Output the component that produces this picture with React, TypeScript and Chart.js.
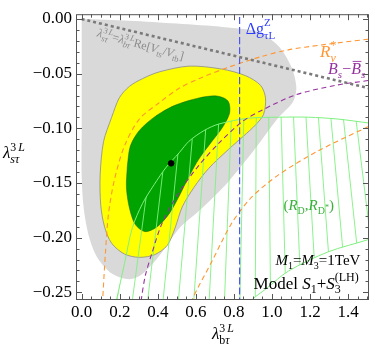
import React, { useEffect, useRef } from "react";
import { Chart, registerables } from "chart.js";

Chart.register(...registerables);

const FONT = "'Liberation Serif', 'DejaVu Serif', 'Times New Roman', serif";

// ---- axes ----
const xRange = [-0.03, 1.51];
const yRange = [-0.257, 0.0044];
const xMajorStep = 0.2;
const xMinorStep = 0.05;
const yMajorStep = 0.05;
const yMinorStep = 0.01;

// ---- regions (lambda_btau, lambda_stau) ----
const grayRegion: [number, number][] = [
  [0, 0], [0.25, -0.0015], [0.5, -0.0042], [0.75, -0.0075], [0.92, -0.0115], [1.03, -0.024],
  [1.1, -0.043], [1.128, -0.062], [1.11, -0.076], [1.03, -0.091], [0.91, -0.119], [0.77, -0.149],
  [0.62, -0.175], [0.51, -0.192], [0.41, -0.216], [0.32, -0.233], [0.25, -0.238], [0.16, -0.233],
  [0.085, -0.219], [0.04, -0.2], [0.012, -0.175], [0, -0.145], [0, -0.1], [0, -0.05], [0, 0],
];
const yellowRegion: [number, number][] = [
  [0.157, -0.09], [0.198, -0.072], [0.251, -0.0616], [0.319, -0.0546], [0.407, -0.0484],
  [0.564, -0.0431], [0.736, -0.0458], [0.862, -0.0519], [0.94, -0.0607], [0.966, -0.0722],
  [0.956, -0.0871], [0.914, -0.0968], [0.851, -0.107], [0.773, -0.119], [0.668, -0.1365],
  [0.59, -0.154], [0.528, -0.172], [0.491, -0.191], [0.45, -0.207], [0.384, -0.2155],
  [0.303, -0.218], [0.225, -0.215], [0.157, -0.205], [0.12, -0.19], [0.1, -0.17],
  [0.097, -0.1426], [0.115, -0.112], [0.157, -0.09],
];
const greenRegion: [number, number][] = [
  [0.24, -0.134], [0.256, -0.116], [0.303, -0.102], [0.381, -0.0898], [0.486, -0.0792],
  [0.616, -0.0722], [0.71, -0.0704], [0.768, -0.0748], [0.778, -0.0854], [0.742, -0.0986],
  [0.684, -0.112], [0.616, -0.128], [0.564, -0.144], [0.512, -0.162], [0.46, -0.178],
  [0.397, -0.19], [0.334, -0.1945], [0.282, -0.188], [0.251, -0.173], [0.235, -0.154], [0.24, -0.134],
];
const rdOuterArc: [number, number][] = [
  [0.172, -0.266], [0.183, -0.257], [0.225, -0.2236], [0.266, -0.191], [0.319, -0.169],
  [0.381, -0.1514], [0.444, -0.1356], [0.512, -0.1224], [0.564, -0.1118], [0.642, -0.1021],
  [0.721, -0.096], [0.877, -0.0907], [1.034, -0.0898], [1.191, -0.0898], [1.347, -0.0915],
  [1.509, -0.0951], [1.556, -0.096],
];
const rdInnerArc: [number, number][] = [
  [1.556, -0.198], [1.509, -0.2016], [1.295, -0.213], [1.086, -0.2306], [0.971, -0.2465],
  [0.893, -0.257], [0.841, -0.2676],
];
const rnuOuter: [number, number][] = [
  [1.55, -0.018], [1.504, -0.0185], [1.258, -0.0238], [1.086, -0.0282], [0.945, -0.0343],
  [0.773, -0.044], [0.616, -0.0546], [0.512, -0.0634], [0.407, -0.0766], [0.303, -0.0915],
  [0.225, -0.116], [0.172, -0.147], [0.141, -0.178], [0.125, -0.213], [0.11, -0.257], [0.105, -0.27],
];
const rnuInner: [number, number][] = [
  [1.55, -0.095], [1.504, -0.0986], [1.243, -0.1206], [1.034, -0.1426], [0.893, -0.163],
  [0.789, -0.1866], [0.684, -0.2218], [0.58, -0.257], [0.565, -0.27],
];
const bsMixing: [number, number][] = [
  [1.55, -0.055], [1.504, -0.0563], [1.332, -0.0607], [1.123, -0.0695], [0.945, -0.0836],
  [0.841, -0.0942], [0.721, -0.1136], [0.616, -0.1338], [0.512, -0.1585], [0.423, -0.1866],
  [0.371, -0.213], [0.334, -0.235], [0.313, -0.257], [0.305, -0.27],
];
const dgZLine: [number, number][] = [[0.83, -0.27], [0.83, 0.01]];
const ckmLine: [number, number][] = [[0, 0], [1.55, -0.065]];
const bestFit: [number, number][] = [[0.47, -0.132]];

// hatch pattern style for (R_D, R_D*) band
const hatchApex = [0.94, 0.62];
const hatchStart = 0.183;
const hatchStep = 0.081;

const toXY = (a: [number, number][]) => a.map(([x, y]) => ({ x, y }));

type Txt = { t: string; sz: number; it?: boolean; dy?: number; over?: boolean; gap?: number };
type Grp = { sup?: Txt[]; sub?: Txt[] };
type Part = Txt | Grp;
const T = (t: string, sz: number, it = false, dy = 0, extra: Partial<Txt> = {}): Txt => ({ t, sz, it, dy, ...extra });

function drawTxt(ctx: CanvasRenderingContext2D, s: Txt, x: number, y: number) {
  ctx.font = `${s.it ? "italic " : ""}${s.sz}px ${FONT}`;
  const xx = x + (s.gap || 0);
  ctx.fillText(s.t, xx, y + (s.dy || 0));
  const w = ctx.measureText(s.t).width;
  if (s.over) {
    ctx.lineWidth = 0.9;
    ctx.beginPath();
    ctx.moveTo(xx + w * 0.15, y + (s.dy || 0) - s.sz * 0.78);
    ctx.lineTo(xx + w * 1.05, y + (s.dy || 0) - s.sz * 0.78);
    ctx.stroke();
  }
  return xx + w;
}
function drawParts(ctx: CanvasRenderingContext2D, parts: Part[], x: number, y: number, color: string) {
  ctx.fillStyle = color;
  ctx.strokeStyle = color;
  ctx.textAlign = "left";
  ctx.textBaseline = "alphabetic";
  let cx = x;
  for (const p of parts) {
    if ((p as Txt).t !== undefined) cx = drawTxt(ctx, p as Txt, cx, y);
    else {
      const g = p as Grp;
      let e1 = cx, e2 = cx;
      if (g.sup) for (const s of g.sup) e1 = drawTxt(ctx, s, e1, y);
      if (g.sub) for (const s of g.sub) e2 = drawTxt(ctx, s, e2, y);
      cx = Math.max(e1, e2);
    }
  }
  return cx;
}

const lam = (sz: number, sub: Txt[]): Part[] => [
  T("λ", sz, true),
  { sup: [T("3", sz * 0.7, false, -sz * 0.42), T("L", sz * 0.7, true, -sz * 0.42, { gap: sz * 0.12 })], sub },
];

const frameColor = "#555";

const hatchPlugin = {
  id: "hatchRD",
  afterDatasetDraw(chart: any, args: any) {
    const ds = chart.data.datasets[args.index];
    if (ds.hatchKey !== "rd") return;
    const { ctx, chartArea: a, scales } = chart;
    const xs = scales.x, ys = scales.y;
    const line = args.meta.dataset;
    ctx.save();
    ctx.beginPath();
    ctx.rect(a.left, a.top, a.right - a.left, a.bottom - a.top);
    ctx.clip();
    ctx.beginPath();
    if (line && typeof line.path === "function") {
      line.path(ctx);
    } else {
      args.meta.data.forEach((pt: any, i: number) => (i ? ctx.lineTo(pt.x, pt.y) : ctx.moveTo(pt.x, pt.y)));
    }
    ctx.closePath();
    ctx.clip();
    ctx.strokeStyle = ds.borderColor;
    ctx.lineWidth = 0.9;
    const cx = xs.getPixelForValue(hatchApex[0]);
    const cy = ys.getPixelForValue(hatchApex[1]);
    ctx.beginPath();
    for (let k = -6; k <= 40; k++) {
      const bx = xs.getPixelForValue(hatchStart + k * hatchStep);
      const by = ys.getPixelForValue(-0.26);
      ctx.moveTo(cx, cy);
      ctx.lineTo(cx + (bx - cx) * 1.3, cy + (by - cy) * 1.3);
    }
    ctx.stroke();
    ctx.restore();
  },
};

const framePlugin = {
  id: "frameTicks",
  afterDatasetsDraw(chart: any) {
    const { ctx, chartArea: a, scales } = chart;
    const xs = scales.x, ys = scales.y;
    ctx.save();
    ctx.strokeStyle = frameColor;
    ctx.lineWidth = 1;
    ctx.strokeRect(a.left + 0.5, a.top + 0.5, a.right - a.left - 1, a.bottom - a.top - 1);
    ctx.beginPath();
    const isMajor = (v: number, step: number) => Math.abs(v / step - Math.round(v / step)) < 1e-6;
    for (let v = Math.ceil(xs.min / xMinorStep) * xMinorStep; v <= xs.max + 1e-9; v += xMinorStep) {
      const L = isMajor(v, xMajorStep) ? 6 : 3.5;
      const px = Math.round(xs.getPixelForValue(v)) + 0.5;
      ctx.moveTo(px, a.bottom); ctx.lineTo(px, a.bottom - L);
      ctx.moveTo(px, a.top); ctx.lineTo(px, a.top + L);
    }
    for (let v = Math.ceil(ys.min / yMinorStep) * yMinorStep; v <= ys.max + 1e-9; v += yMinorStep) {
      const L = isMajor(v, yMajorStep) ? 6 : 3.5;
      const py = Math.round(ys.getPixelForValue(v)) + 0.5;
      ctx.moveTo(a.left, py); ctx.lineTo(a.left + L, py);
      ctx.moveTo(a.right, py); ctx.lineTo(a.right - L, py);
    }
    ctx.stroke();
    ctx.restore();
  },
};

const labelPlugin = {
  id: "labels",
  afterDraw(chart: any) {
    const { ctx, scales } = chart;
    const xs = scales.x, ys = scales.y;
    const P = (x: number, y: number) => [xs.getPixelForValue(x), ys.getPixelForValue(y)];
    ctx.save();
    // axis titles
    drawParts(ctx, lam(17, [T("sτ", 12, true, 5)]), 3, 158, "#000");
    drawParts(ctx, lam(17, [T("b", 12, false, 5), T("τ", 12, true, 5)]), 212, 339, "#000");
    // blue
    let [px, py] = P(0.862, -0.0141);
    drawParts(ctx, [T("Δg", 16), { sup: [T("Z", 11, false, -8)], sub: [T("τL", 11, false, 5)] }], px, py, "rgb(45,60,255)");
    [px, py] = P(1.253, -0.0352);
    drawParts(ctx, [T("R", 17, true), { sup: [T("*", 12, false, -8)], sub: [T("ν", 12, true, 5)] }], px, py, "rgb(255,150,50)");
    [px, py] = P(1.295, -0.0502);
    drawParts(ctx, [T("B", 16, true), { sub: [T("s", 11, true, 4)] }, T("−", 16), T("B", 16, true, 0, { over: true }), { sub: [T("s", 11, true, 4)] }], px, py, "rgb(150,50,160)");
    [px, py] = P(1.06, -0.1743);
    drawParts(ctx, [T("(", 15), T("R", 15, true), { sub: [T("D", 10, false, 4)] }, T(",", 15), T("R", 15, true), { sub: [T("D", 10, false, 4), T("*", 8, false, 0)] }, T(")", 15)], px, py, "rgb(60,175,60)");
    [px, py] = P(1.018, -0.2254);
    drawParts(ctx, [T("M", 15, true), { sub: [T("1", 10, false, 4)] }, T("=", 15), T("M", 15, true), { sub: [T("3", 10, false, 4)] }, T("=1TeV", 15)], px, py, "#000");
    [px, py] = P(0.903, -0.2465);
    drawParts(ctx, [T("Model ", 17), T("S", 17, true), { sub: [T("1", 12, false, 4)] }, T("+", 17), T("S", 17, true), { sup: [T("(LH)", 12, false, -8)], sub: [T("3", 12, false, 4)] }], px, py, "#000");
    // rotated gray CKM label
    [px, py] = P(0.078, -0.0158);
    ctx.translate(px, py);
    ctx.rotate((15.5 * Math.PI) / 180);
    drawParts(ctx, [
      ...lam(12, [T("sτ", 8.5, true, 3.2)]), T("=", 12),
      ...lam(12, [T("bτ", 8.5, true, 3.2)]), T("Re[", 12), T("V", 12, true), { sub: [T("ts", 8.5, false, 3.2)] },
      T("/", 12), T("V", 12, true), { sub: [T("tb", 8.5, false, 3.2)] }, T("]", 12),
    ], 0, 0, "#8a8a8a");
    ctx.restore();
  },
};

export default function App() {
  const ref = useRef<HTMLCanvasElement>(null);
  useEffect(() => {
    if (!ref.current) return;
    const dashed = (data: [number, number][], color: string, dash: number[], order: number, width = 1.1) => ({
      data: toXY(data), showLine: true, fill: false, borderColor: color, borderWidth: width,
      borderDash: dash, pointRadius: 0, tension: 0.3, order,
    });
    const chart = new Chart(ref.current, {
      type: "scatter",
      data: {
        datasets: [
          { data: toXY(grayRegion), showLine: true, fill: "shape", backgroundColor: "#d9d9d9", borderWidth: 0, borderColor: "#d9d9d9", pointRadius: 0, tension: 0.3, order: 20 } as any,
          { data: toXY(yellowRegion), showLine: true, fill: "shape", backgroundColor: "#ffff00", borderWidth: 0.8, borderColor: "#8c8c8c", pointRadius: 0, tension: 0.3, order: 19 } as any,
          { data: toXY(greenRegion), showLine: true, fill: "shape", backgroundColor: "#00a300", borderWidth: 0.6, borderColor: "rgba(30,90,30,0.8)", pointRadius: 0, tension: 0.3, order: 18 } as any,
          { data: toXY([...rdOuterArc, ...rdInnerArc, rdOuterArc[0]]), hatchKey: "rd", showLine: true, fill: false, borderColor: "#7ff07f", borderWidth: 1, pointRadius: 0, tension: 0.3, order: 15 } as any,
          dashed(rnuOuter, "rgb(255,150,50)", [5, 3.5], 10),
          dashed(rnuInner, "rgb(255,150,50)", [5, 3.5], 10),
          dashed(bsMixing, "rgb(150,50,160)", [5, 3.5], 9),
          dashed(dgZLine, "rgb(60,75,255)", [7, 3], 8),
          dashed(ckmLine, "#7a7a7a", [3, 3], 7, 2.6),
          { data: toXY(bestFit), showLine: false, pointRadius: 2.8, backgroundColor: "#000", borderColor: "#000", order: 1 } as any,
        ],
      },
      options: {
        responsive: false,
        animation: false,
        events: [],
        layout: { padding: { left: 0, right: 3, top: 3, bottom: 0 } },
        elements: { line: { capBezierPoints: false } as any },
        plugins: { legend: { display: false }, tooltip: { enabled: false }, title: { display: false } },
        scales: {
          x: {
            type: "linear", min: xRange[0], max: xRange[1],
            grid: { display: false, drawTicks: false }, border: { display: false },
            ticks: {
              stepSize: xMajorStep, includeBounds: false, autoSkip: false, maxRotation: 0, padding: 2,
              color: "#000", font: { family: FONT, size: 17 },
              callback: (v: any) => Number(v).toFixed(1),
            },
            afterFit: (s: any) => { s.height = 47; },
          },
          y: {
            type: "linear", min: yRange[0], max: yRange[1],
            grid: { display: false, drawTicks: false }, border: { display: false },
            ticks: {
              stepSize: yMajorStep, includeBounds: false, autoSkip: false, padding: 4,
              color: "#000", font: { family: FONT, size: 17 },
              callback: (v: any) => {
                const n = Number(v);
                return (n < -1e-9 ? "\u2212" : "") + Math.abs(n).toFixed(2);
              },
            },
            afterFit: (s: any) => { s.width = 76; },
          },
        },
      } as any,
      plugins: [hatchPlugin, framePlugin, labelPlugin],
    });
    return () => chart.destroy();
  }, []);
  return (
    <div style={{ position: "absolute", left: 0, top: 0, width: 374, height: 347, background: "#fff" }}>
      <canvas ref={ref} width={374} height={347} style={{ display: "block", width: 374, height: 347 }} />
    </div>
  );
}
